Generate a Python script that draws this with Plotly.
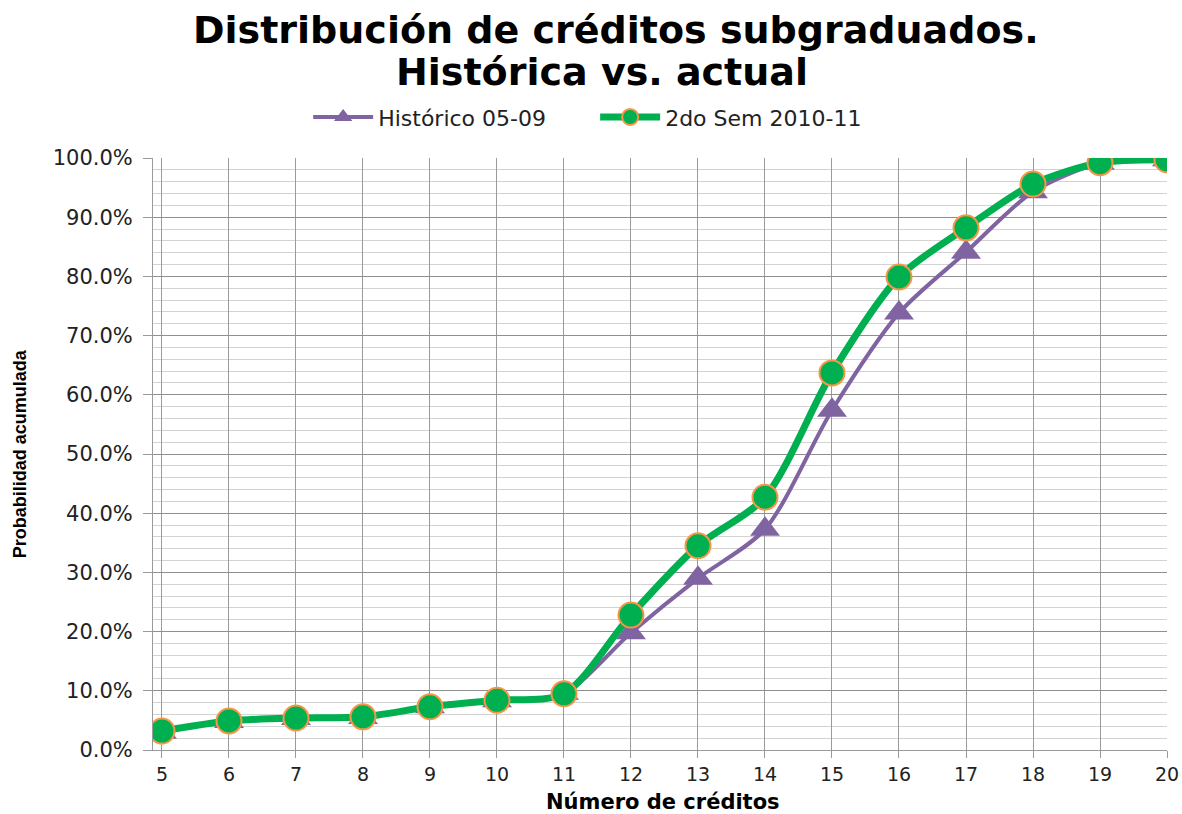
import plotly.graph_objects as go

creditos = [5, 6, 7, 8, 9, 10, 11, 12, 13, 14, 15, 16, 17, 18, 19, 20]
historico = [3.0, 4.8, 5.3, 5.5, 7.3, 8.3, 9.6, 19.8, 29.0, 37.3, 57.4, 73.8, 84.1, 94.3, 99.1, 99.7]
actual = [3.2, 4.9, 5.4, 5.6, 7.3, 8.4, 9.5, 22.8, 34.5, 42.7, 63.7, 79.9, 88.2, 95.6, 99.2, 99.7]
y_ticks = [0, 10, 20, 30, 40, 50, 60, 70, 80, 90, 100]

fig = go.Figure()
fig.add_trace(go.Scatter(
    x=creditos, y=historico, name="Histórico 05-09", mode="lines+markers",
    line=dict(color="#8064A2", width=4, shape="spline", smoothing=0.8),
    marker=dict(symbol="triangle-up", size=26, color="#8064A2"),
))
fig.add_trace(go.Scatter(
    x=creditos, y=actual, name="2do Sem 2010-11", mode="lines+markers",
    line=dict(color="#00B050", width=7, shape="spline", smoothing=0.8),
    marker=dict(symbol="circle", size=25, color="#00B050", line=dict(color="#F79646", width=2)),
))

fig.update_layout(
    width=1182, height=814,
    paper_bgcolor="white", plot_bgcolor="white",
    margin=dict(l=153, r=15, t=158, b=64, autoexpand=False),
    legend=dict(
        orientation="h", x=0.153, xanchor="left", y=1.069, yanchor="middle",
        yref="paper",
        font=dict(family="DejaVu Sans", size=22, color="#222"),
        itemwidth=60, entrywidth=212, entrywidthmode="pixels",
    ),
    showlegend=True,
    annotations=[
        dict(text="<b>Distribución de créditos subgraduados.</b>", xref="paper", yref="paper",
             x=0.457, y=1.216, xanchor="center", yanchor="middle", showarrow=False,
             font=dict(family="DejaVu Sans", size=38, color="black")),
        dict(text="<b>Histórica vs. actual</b>", xref="paper", yref="paper",
             x=0.443, y=1.145, xanchor="center", yanchor="middle", showarrow=False,
             font=dict(family="DejaVu Sans", size=38, color="black")),
        dict(text="<b>Probabilidad acumulada</b>", xref="paper", yref="paper",
             x=-0.131, y=0.5, xanchor="center", yanchor="middle", showarrow=False, textangle=-90,
             font=dict(family="Liberation Sans", size=18, color="black")),
        dict(text="<b>Número de créditos</b>", xref="paper", yref="paper",
             x=0.503, y=-0.088, xanchor="center", yanchor="middle", showarrow=False,
             font=dict(family="DejaVu Sans", size=21, color="black")),
    ],
)
fig.update_xaxes(
    range=[4.866, 20], tickmode="array", tickvals=creditos,
    ticktext=[str(c) for c in creditos],
    showgrid=True, gridcolor="#9a9a9a", gridwidth=1,
    showline=True, linecolor="#9a9a9a", linewidth=1,
    ticks="outside", ticklen=7, tickcolor="#9a9a9a",
    tickfont=dict(family="DejaVu Sans", size=19, color="#222"),
    zeroline=False,
)
fig.update_yaxes(
    range=[0, 100], tickmode="array", tickvals=y_ticks,
    ticktext=[f"{v:.1f}%" for v in y_ticks],
    showgrid=True, gridcolor="#8f8f8f", gridwidth=1,
    minor=dict(dtick=2, showgrid=True, gridcolor="#d3d3d3", gridwidth=1),
    showline=True, linecolor="#9a9a9a", linewidth=1,
    ticks="outside", ticklen=9, tickcolor="#9a9a9a",
    tickfont=dict(family="DejaVu Sans", size=21, color="#222"),
    ticklabelstandoff=6,
    zeroline=False,
)

fig.write_html("out.html", config={"displayModeBar": False},
               post_script="document.body.style.margin='0';")
